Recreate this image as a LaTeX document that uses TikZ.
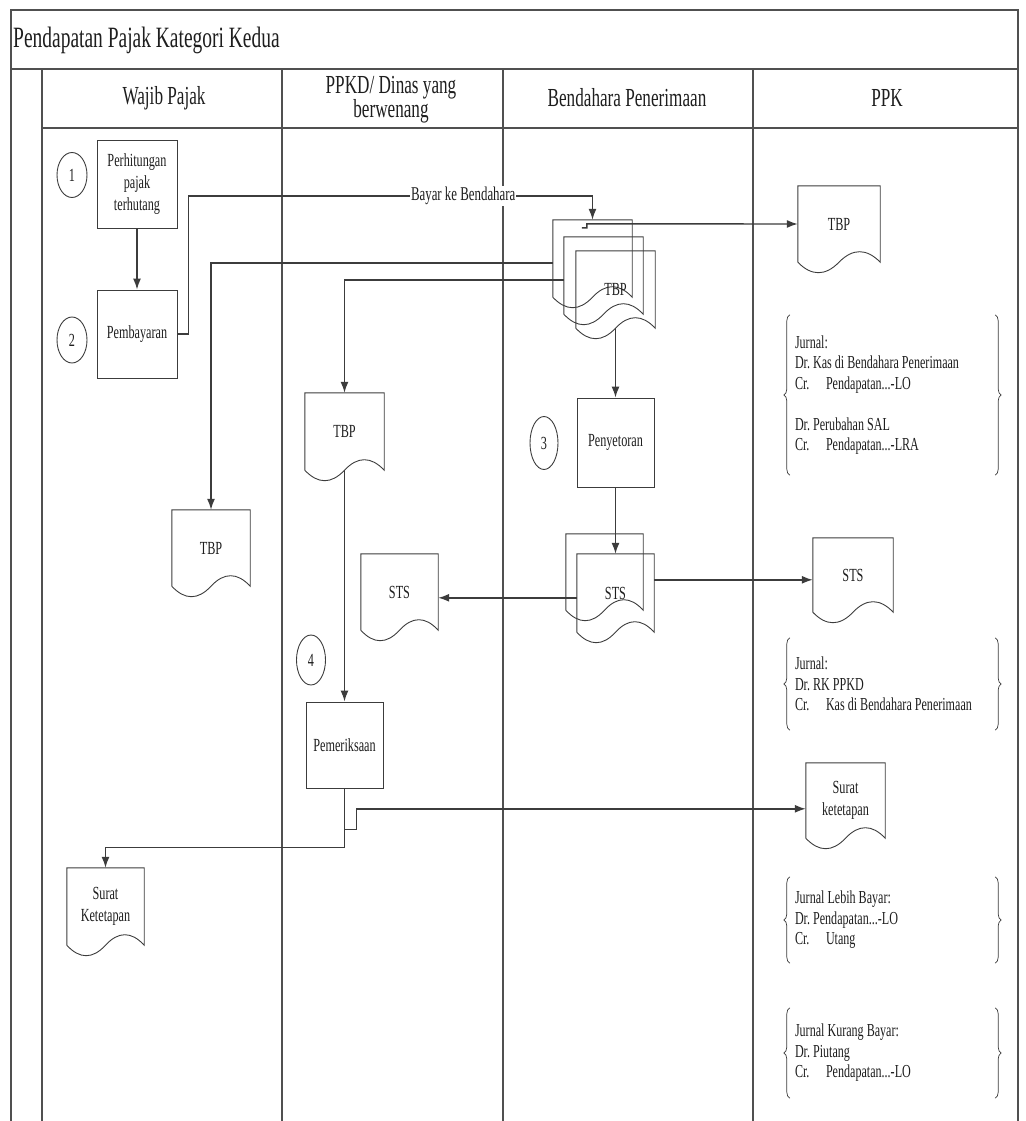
\documentclass[tikz,border=0pt]{standalone}
\usepackage{fontspec}
\setmainfont{Liberation Serif}[FakeStretch=0.66]
\usetikzlibrary{arrows.meta,decorations.pathreplacing,calc,shapes.geometric}

\definecolor{ln}{HTML}{3C3C3C}
\definecolor{fr}{HTML}{505050}
\definecolor{tx}{HTML}{1E1E1E}

\newcommand\bodyfont{\fontsize{18.5}{22}\selectfont}
\newcommand\jfont{\fontsize{18.3}{20.5}\selectfont}
\newcommand\hdfont{\fontsize{26}{24}\selectfont}
\newcommand\ttlfont{\fontsize{29.5}{30}\selectfont}
\newcommand\lblfont{\fontsize{19.5}{20}\selectfont}
\newcommand\crr{\makebox[31pt][l]{Cr.}}

\tikzset{
  frame/.style={draw=fr, line width=1.2pt},
  docnode/.style={draw=none, inner sep=0pt, align=center, text=tx, font=\bodyfont},
  docline/.style={draw=ln, line width=0.9pt},
  procbox/.style={draw=ln, line width=0.9pt, inner sep=2pt, align=center, text=tx, font=\bodyfont},
  numell/.style={ellipse, draw=ln, line width=0.9pt, inner sep=0pt, text=tx, font=\bodyfont},
  jbox/.style={draw=none, inner xsep=5pt, inner ysep=0pt, text width=195pt, align=flush left, text=tx, font=\jfont},
  brc/.style={draw=ln, line width=0.7pt, decorate, decoration={brace, amplitude=6pt}},
  conn/.style={draw=ln, line width=1.4pt, -{Latex[length=11pt,width=8pt]}},
  lbl/.style={fill=white, inner sep=1pt, text=tx, font=\lblfont},
  hd/.style={align=center, text=tx, font=\hdfont, inner sep=0pt},
}

\newcommand\docat[6]{%
  \node[docnode, minimum width=#4pt, minimum height=#5pt] (#1) at ({#2+#4/2},{#3+#5/2}) {#6};
  \draw[docline] (#1.south west) -- (#1.north west) -- (#1.north east) -- (#1.south east)
    .. controls +(-#4/6,-14) and +(#4/6,-14) .. (#1.south)
    .. controls +(-#4/6,14) and +(#4/6,14) .. (#1.south west);
}

\begin{document}
\frenchspacing
\begin{tikzpicture}[x=1pt, y=-1pt]
\useasboundingbox (0,0) rectangle (1025,1121);

% frame
\draw[frame] (11,1121) -- (11,10) -- (1018,10) -- (1018,1121);
\draw[frame] (11,69) -- (1018,69);
\draw[frame] (42,128) -- (1018,128);
\draw[frame] (42,69) -- (42,1121);
\draw[frame] (282,69) -- (282,1121);
\draw[frame] (503,69) -- (503,1121);
\draw[frame] (753,69) -- (753,1121);

\node[anchor=west, text=tx, font=\ttlfont, inner sep=0pt] (title) at (13,40) {Pendapatan Pajak Kategori Kedua};
\node[hd] (h1) at (164,98) {Wajib Pajak};
\node[hd] (h2) at (391,100) {PPKD/ Dinas yang\\berwenang};
\node[hd] (h3) at (627,98) {Bendahara Penerimaan};
\node[hd] (h4) at (887,98) {PPK};

% process boxes
\node[procbox, minimum width=80pt, minimum height=88pt] (b1) at (137,184) {Perhitungan\\pajak\\terhutang};
\node[procbox, minimum width=80pt, minimum height=88pt] (b2) at (137,334) {Pembayaran};
\node[procbox, minimum width=77pt, minimum height=89pt] (b3) at (615.5,442.5) {Penyetoran};
\node[procbox, minimum width=77pt, minimum height=86pt] (b4) at (344.5,745) {Pemeriksaan};

% step numbers
\node[numell, minimum width=30pt, minimum height=45pt] (e1) at (72,175) {1};
\node[numell, minimum width=30pt, minimum height=46pt] (e2) at (72,340) {2};
\node[numell, minimum width=28pt, minimum height=53pt] (e3) at (544,443) {3};
\node[numell, minimum width=29pt, minimum height=50pt] (e4) at (311,660) {4};

% documents
\docat{tbp1}{553}{220}{79}{77}{}
\docat{tbp2}{564}{237}{79}{77}{}
\docat{tbp3}{576}{251}{79}{77}{TBP}
\docat{tbpk}{798}{186}{82}{76}{TBP}
\docat{tbpd}{305}{393}{79}{77}{TBP}
\docat{tbpw}{172}{510}{78}{76}{TBP}
\docat{stsb}{566}{534}{77}{76}{}
\docat{stsf}{577}{554}{77}{78}{STS}
\docat{stsd}{361}{554}{77}{76}{STS}
\docat{stsk}{813}{538}{80}{74}{STS}
\docat{suk}{806}{763}{79}{75}{Surat\\ketetapan}
\docat{suw}{67}{868}{77}{77}{Surat\\Ketetapan}

% journals
\node[jbox, minimum height=160pt] (j1) at (892.5,395) {Jurnal:\\Dr. Kas di Bendahara Penerimaan\\\crr Pendapatan...-LO\\[20.5pt]Dr. Perubahan SAL\\\crr Pendapatan...-LRA};
\node[jbox, minimum height=92pt] (j2) at (892.5,684) {Jurnal:\\Dr. RK PPKD\\\crr Kas di Bendahara Penerimaan};
\node[jbox, minimum height=86pt] (j3) at (892.5,920) {Jurnal Lebih Bayar:\\Dr. Pendapatan...-LO\\\crr Utang};
\node[jbox, minimum height=90pt] (j4) at (892.5,1053) {Jurnal Kurang Bayar:\\Dr. Piutang\\\crr Pendapatan...-LO};
\foreach \j in {j1,j2,j3,j4}{
  \draw[brc] (\j.south west) -- (\j.north west);
  \draw[brc] (\j.north east) -- (\j.south east);
}

% connectors
\draw[conn] (b1.south) -- (b2.north);
\draw[conn] (b2.east) -- ++(11,0) |- ([yshift=24pt]tbp1.north) node[lbl, pos=0.84] (bk) {Bayar ke Bendahara} -- (tbp1.north);
\draw[conn] ([xshift=29pt,yshift=-8pt]tbp1.north west) -- ++(5,0) -- ++(0,-4) -- (tbpk.west);
\draw[conn] ([yshift=-43pt]tbp1.north west) -| (tbpw.north);
\draw[conn] ([yshift=-43pt]tbp2.north west) -| (tbpd.north);
\draw[conn] (tbp3.south) -- (b3.north);
\draw[conn] (b3.south) -- (stsf.north);
\draw[conn] ([yshift=-44pt]stsf.north west) -- ([yshift=-44pt]stsd.north east);
\draw[conn] ([yshift=-26pt]stsf.north east) -- ([yshift=-42pt]stsk.north west);
\draw[conn] (tbpd.south) -- (b4.north);
\draw[conn] (b4.south) -- ++(0,59) -| (suw.north);
\draw[conn] ([yshift=-41pt]b4.south) -- ++(12,0) |- ([yshift=-46pt]suk.north west);
\end{tikzpicture}
\end{document}
